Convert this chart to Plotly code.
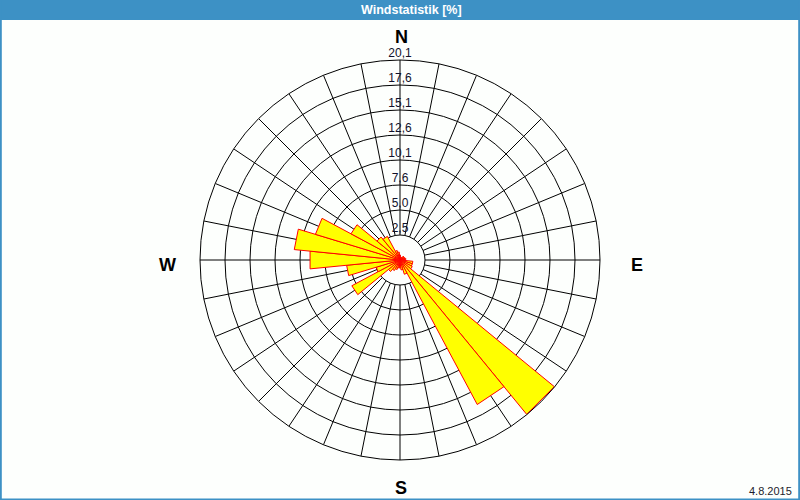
import plotly.graph_objects as go

# ---- data -------------------------------------------------------------
directions = [i * 11.25 for i in range(32)]  # compass bearings (deg)
frequency = [0.5, 0.3, 0.3, 0.3, 0.5, 0.5, 0.5, 0.6,
             0.4, 1.3, 1.3, 1.4, 20.1, 16.5, 1.5, 1.0,
             0.8, 0.8, 1.0, 1.2, 1.5, 5.5, 2.5, 5.4,
             9.1, 10.7, 8.9, 5.6, 3.0, 2.7, 1.0, 0.8]
bar_width = 11.25
radial_max = 20.14
tick_labels = ["2,5", "5,0", "7,6", "10,1", "12,6", "15,1", "17,6", "20,1"]
compass = ["N", "E", "S", "W"]
date_text = "4.8.2015"
title_text = "Windstatistik [%]"

tick_vals = [radial_max * (k + 1) / len(tick_labels) for k in range(len(tick_labels))]

fig = go.Figure()

# spokes from the inner ring to the outer ring
sp_r, sp_t = [], []
for d in directions:
    sp_r += [tick_vals[0], radial_max, None]
    sp_t += [d, d, None]
fig.add_trace(go.Scatterpolar(r=sp_r, theta=sp_t, mode="lines",
                              line=dict(color="black", width=1),
                              hoverinfo="skip", showlegend=False))

# wind bars as triangles (straight outer edge)
for d, v in zip(directions, frequency):
    h = bar_width / 2
    fig.add_trace(go.Scatterpolar(
        r=[0, v, v, 0], theta=[d, d - h, d + h, d],
        mode="lines", fill="toself", fillcolor="#ffff00",
        line=dict(color="#ff0000", width=1),
        hoverinfo="skip", showlegend=False))

# radial tick labels along the north axis
fig.add_trace(go.Scatterpolar(
    r=tick_vals, theta=[0] * len(tick_vals), mode="text",
    text=tick_labels, textposition="top center",
    textfont=dict(family="Liberation Sans, Arial, sans-serif", size=12, color="#10102a"),
    hoverinfo="skip", showlegend=False))

fig.update_layout(
    width=800, height=500,
    margin=dict(l=0, r=0, t=0, b=0),
    paper_bgcolor="#fdfffd", plot_bgcolor="#fdfffd",
    polar=dict(
        domain=dict(x=[0.25, 0.75], y=[0.08, 0.88]),
        bgcolor="rgba(0,0,0,0)",
        radialaxis=dict(range=[0, radial_max], tickvals=tick_vals,
                        showticklabels=False, ticks="", showline=False,
                        showgrid=True, gridcolor="black", gridwidth=1),
        angularaxis=dict(rotation=90, direction="clockwise",
                         showticklabels=False, ticks="", showgrid=False,
                         showline=True, linecolor="black", linewidth=1),
    ),
    shapes=[
        dict(type="rect", xref="paper", yref="paper", x0=0, x1=1, y0=1 - 20 / 500, y1=1,
             fillcolor="#3d91c5", line=dict(width=0), layer="above"),
        dict(type="rect", xref="paper", yref="paper", x0=0.001, x1=0.999, y0=0.001, y1=1,
             line=dict(color="#3d91c5", width=2), layer="above"),
    ],
)

ann = [dict(text="<b>%s</b>" % title_text, x=0.514, y=1 - 10 / 500, xref="paper", yref="paper",
            showarrow=False, font=dict(family="Liberation Sans, Arial, sans-serif", size=12.5, color="white"),
            xanchor="center", yanchor="middle")]
comp_pos = {"N": (401, 37), "E": (637, 265), "S": (401, 488), "W": (167, 265)}
for c in compass:
    x, y = comp_pos[c]
    ann.append(dict(text="<b>%s</b>" % c, x=x / 800, y=1 - y / 500, xref="paper", yref="paper",
                    showarrow=False, xanchor="center", yanchor="middle",
                    font=dict(family="Liberation Sans, Arial, sans-serif", size=18, color="black")))
ann.append(dict(text=date_text, x=794 / 800, y=1 - 491 / 500, xref="paper", yref="paper",
                showarrow=False, xanchor="right", yanchor="middle",
                font=dict(family="Liberation Sans, Arial, sans-serif", size=11, color="#1c1c2c")))
fig.update_layout(annotations=ann)

fig.write_html("out.html")
